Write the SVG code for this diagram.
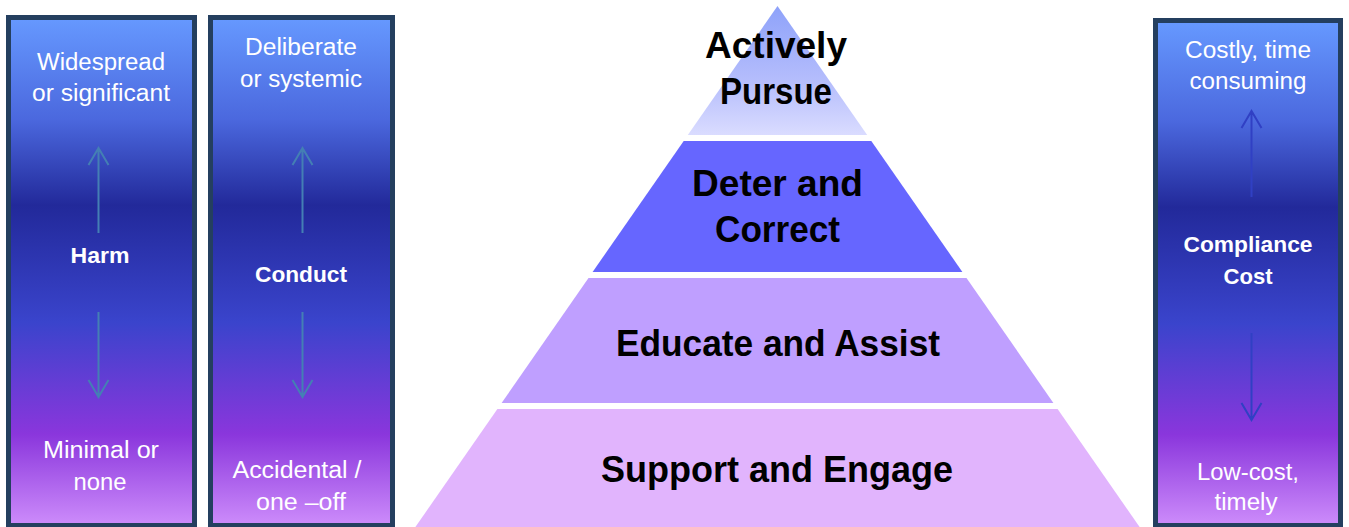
<svg xmlns="http://www.w3.org/2000/svg" width="1349" height="527" viewBox="0 0 1349 527">
<defs>
<linearGradient id="panelGrad" x1="0" y1="0" x2="0" y2="1">
<stop offset="0" stop-color="#6699ff"/>
<stop offset="0.2" stop-color="#4b68de"/>
<stop offset="0.37" stop-color="#22299a"/>
<stop offset="0.6" stop-color="#3a44cc"/>
<stop offset="0.82" stop-color="#8a36dc"/>
<stop offset="1" stop-color="#cd8cfb"/>
</linearGradient>
<linearGradient id="topGrad" x1="0" y1="0" x2="0" y2="1">
<stop offset="0" stop-color="#8ea2fa"/>
<stop offset="0.6" stop-color="#b6befc"/>
<stop offset="1" stop-color="#dadcff"/>
</linearGradient>
</defs>
<style>
.panel{fill:url(#panelGrad);stroke:#243f5f;stroke-width:5}
.lt{font-family:"Liberation Sans",Arial,sans-serif;font-size:23px;fill:#ffffff;text-anchor:middle}
.bt{font-family:"Liberation Sans",Arial,sans-serif;font-size:22.5px;font-weight:bold;fill:#ffffff;text-anchor:middle}
.pt{font-family:"Liberation Sans",Arial,sans-serif;font-size:37.5px;font-weight:bold;fill:#000000;text-anchor:middle}
.arr{fill:none;stroke:#447fb4;stroke-width:2}
.arr2{fill:none;stroke:#3040c4;stroke-width:2}
</style>
<rect width="1349" height="527" fill="#ffffff"/>

<g id="panel-harm">
<rect class="panel" x="8.5" y="17.5" width="186" height="508"/>
<text class="lt" x="101" y="70" textLength="128" lengthAdjust="spacingAndGlyphs">Widespread</text>
<text class="lt" x="101" y="101" textLength="138" lengthAdjust="spacingAndGlyphs">or significant</text>
<text class="bt" x="100" y="263" textLength="59" lengthAdjust="spacingAndGlyphs">Harm</text>
<text class="lt" x="101" y="458" textLength="116" lengthAdjust="spacingAndGlyphs">Minimal or</text>
<text class="lt" x="100" y="490" textLength="53" lengthAdjust="spacingAndGlyphs">none</text>
</g>

<g id="panel-conduct">
<rect class="panel" x="210.5" y="17.5" width="182" height="508"/>
<text class="lt" x="301" y="55" textLength="112" lengthAdjust="spacingAndGlyphs">Deliberate</text>
<text class="lt" x="301" y="87" textLength="122" lengthAdjust="spacingAndGlyphs">or systemic</text>
<text class="bt" x="301" y="282" textLength="92" lengthAdjust="spacingAndGlyphs">Conduct</text>
<text class="lt" x="297" y="478" textLength="129" lengthAdjust="spacingAndGlyphs">Accidental /</text>
<text class="lt" x="301" y="510" textLength="90" lengthAdjust="spacingAndGlyphs">one –off</text>
</g>

<g id="panel-cost">
<rect class="panel" x="1155.5" y="20.5" width="185" height="505"/>
<text class="lt" x="1248" y="58" textLength="126" lengthAdjust="spacingAndGlyphs">Costly, time</text>
<text class="lt" x="1248" y="89" textLength="117" lengthAdjust="spacingAndGlyphs">consuming</text>
<text class="bt" x="1248" y="252" textLength="129" lengthAdjust="spacingAndGlyphs">Compliance</text>
<text class="bt" x="1248" y="284" textLength="49" lengthAdjust="spacingAndGlyphs">Cost</text>
<text class="lt" x="1248" y="480" textLength="102" lengthAdjust="spacingAndGlyphs">Low-cost,</text>
<text class="lt" x="1246" y="510" textLength="63" lengthAdjust="spacingAndGlyphs">timely</text>
</g>

<g id="arrows">
<path class="arr" d="M98.5,233 V148 M88.5,165 L98.5,148 L108.5,165"/>
<path class="arr" d="M98.5,312 V397 M88.5,380 L98.5,397 L108.5,380"/>
<path class="arr" d="M302.5,233 V148 M292.5,165 L302.5,148 L312.5,165"/>
<path class="arr" d="M302.5,312 V397 M292.5,380 L302.5,397 L312.5,380"/>
<path class="arr2" d="M1251.5,197 V111 M1241.5,128 L1251.5,111 L1261.5,128"/>
<path class="arr2" d="M1251.5,333 V420 M1241.5,403 L1251.5,420 L1261.5,403"/>
</g>

<g id="tier-actively-pursue">
<polygon points="777.5,6 867.2,135 687.8,135" fill="url(#topGrad)"/>
<text class="pt" x="776" y="58" textLength="142" lengthAdjust="spacingAndGlyphs">Actively</text>
<text class="pt" x="776" y="104" textLength="112" lengthAdjust="spacingAndGlyphs">Pursue</text>
</g>

<g id="tier-deter-correct">
<polygon points="683.7,141 871.3,141 962.4,272 592.6,272" fill="#6666ff"/>
<text class="pt" x="777.5" y="196" textLength="171" lengthAdjust="spacingAndGlyphs">Deter and</text>
<text class="pt" x="777.5" y="242" textLength="125" lengthAdjust="spacingAndGlyphs">Correct</text>
</g>

<g id="tier-educate-assist">
<polygon points="588.5,278 966.5,278 1053.4,403 501.6,403" fill="#bf9fff"/>
<text class="pt" x="778" y="356" textLength="324" lengthAdjust="spacingAndGlyphs">Educate and Assist</text>
</g>

<g id="tier-support-engage">
<polygon points="497.4,409 1057.6,409 1141.7,530 413.3,530" fill="#e1b4fd"/>
<text class="pt" x="777" y="482" textLength="352" lengthAdjust="spacingAndGlyphs">Support and Engage</text>
</g>
</svg>
